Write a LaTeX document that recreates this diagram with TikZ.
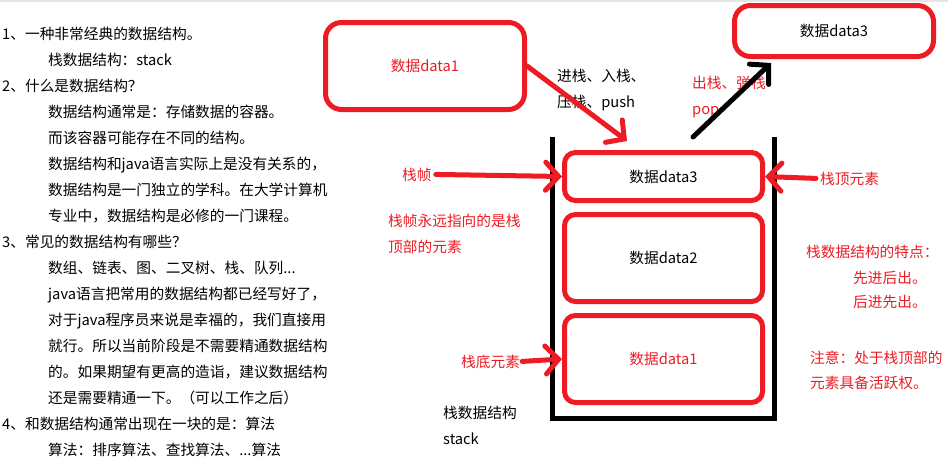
\documentclass[tikz,border=0pt]{standalone}
\usepackage{fontspec}
\setmainfont{Noto Sans CJK SC}
\usepackage{xcolor}
\usetikzlibrary{positioning, arrows.meta}
\definecolor{pred}{RGB}{237,28,36}
\newcommand{\threedots}{.{}.{}.}

\begin{document}
\begin{tikzpicture}[x=1pt, y=-1pt,
  every node/.style={font=\fontsize{14.7}{18}\selectfont, inner sep=0pt},
  txt/.style={anchor=base west},
  redtxt/.style={anchor=base west, text=pred},
  bigbox/.style={draw=pred, line width=5, rounded corners=16, minimum width=199, minimum height=87},
  stackbox/.style={draw=pred, line width=5, rounded corners=11, minimum width=198, minimum height=87},
  paintarrow/.style={line width=5, line cap=round, -{Straight Barb[length=13pt, width=28pt, line cap=round]}}]
\useasboundingbox (0,0) rectangle (948,466);
\draw[black!10, line width=1.5] (0,0.75) -- (948,0.75);
% Notes on the left (one line every 26px)
\foreach \x/\t [count=\i] in {2/1、一种非常经典的数据结构。,
  48/栈数据结构：stack,
  2/2、什么是数据结构？,
  48/数据结构通常是：存储数据的容器。,
  48/而该容器可能存在不同的结构。,
  48/数据结构和java语言实际上是没有关系的，,
  48/数据结构是一门独立的学科。在大学计算机,
  48/专业中，数据结构是必修的一门课程。,
  2/3、常见的数据结构有哪些？,
  48/数组、链表、图、二叉树、栈、队列\threedots,
  48/java语言把常用的数据结构都已经写好了，,
  48/对于java程序员来说是幸福的，我们直接用,
  48/就行。所以当前阶段是不需要精通数据结构,
  48/的。如果期望有更高的造诣，建议数据结构,
  48/还是需要精通一下。（可以工作之后）,
  2/4、和数据结构通常出现在一块的是：算法,
  48/算法：排序算法、查找算法、\threedots 算法} {
  \node[txt] (note\i) at (\x, {39+26*(\i-1)}) {\t};
}
% Stack container
\draw[line width=5] (552,137) -- (552,418) -- (774,418) -- (774,137);
% Elements inside the stack
\node[stackbox, minimum height=48] (s3) at (663.5,176.5) {数据data3};
\node[stackbox] (s2) at (663.5,258) {数据data2};
\node[stackbox, text=pred] (s1) at (663.5,359) {数据data1};
% Elements outside
\node[bigbox, text=pred] (d1) at (425,66) {数据data1};
\node[bigbox, minimum height=51] (d3) at (834,31) {数据data3};
% Push
\node[txt] (push1) at (557,81) {进栈、入栈、};
\node[txt] (push2) at (557,107) {压栈、push};
\coordinate (pushend) at (627,141);
\draw[paintarrow, pred] (d1.east) -- (pushend);
% Pop
\node[redtxt] (pop1) at (692,88) {出栈、弹栈};
\node[redtxt] (pop2) at (692,114) {pop};
\coordinate (popstart) at (693,137);
\coordinate (popend) at (771,63);
\draw[paintarrow] (popstart) -- (popend);
% Stack frame
\node[redtxt] (frame) at (402,180) {栈帧};
\draw[paintarrow, pred] ([xshift=4]frame.east) -- (s3.west);
\node[redtxt] (frame1) at (388,226) {栈帧永远指向的是栈};
\node[redtxt] (frame2) at (388,252) {顶部的元素};
% Top and bottom element
\node[redtxt] (topel) at (820,184) {栈顶元素};
\draw[paintarrow, pred] ([xshift=-4]topel.west) -- (s3.east);
\node[redtxt] (botel) at (461,367) {栈底元素};
\draw[paintarrow, pred] ([xshift=2]botel.east) -- (s1.west);
\node[txt] (name1) at (443,418) {栈数据结构};
\node[txt] (name2) at (443,444) {stack};
% Remarks on the right
\node[redtxt] (rule0) at (806,257) {栈数据结构的特点：};
\node[redtxt] (rule1) at (853,283) {先进后出。};
\node[redtxt] (rule2) at (853,307) {后进先出。};
\node[redtxt] (note1r) at (810,363) {注意：处于栈顶部的};
\node[redtxt] (note2r) at (810,388) {元素具备活跃权。};
\end{tikzpicture}
\end{document}
